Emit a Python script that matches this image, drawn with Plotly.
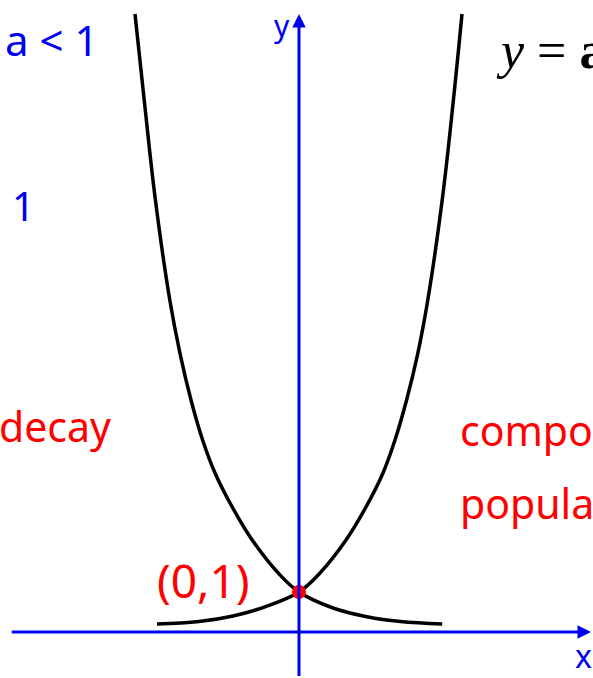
import plotly.graph_objects as go

# Curve points (data units: 1 unit = one step of the hidden grid)
growth_x = [-3.55, -2.5, -1.65, -0.85, 0.0, 0.525, 1.175, 1.675, 2.1, 2.4, 2.69, 2.965, 3.22, 3.58, 3.86, 4.075]
growth_y = [0.2, 0.26, 0.4, 0.63, 1.0, 1.475, 2.3, 3.125, 3.975, 4.8, 5.8, 6.94, 8.3, 10.8, 13.3, 15.45]

decay_x = [-4.1, -3.87, -3.59, -3.23, -2.97, -2.7, -2.41, -2.1, -1.67, -1.17, -0.52, 0.0, 0.85, 1.7, 2.53, 3.58]
decay_y = [15.45, 13.3, 10.8, 8.3, 6.94, 5.8, 4.8, 3.975, 3.125, 2.3, 1.475, 1.0, 0.6, 0.38, 0.26, 0.2]

point_x = [0]
point_y = [1]

x_range = [-7.475, 7.35]
y_range = [-1.15, 15.8]

BLUE = "#0000f0"
RED = "#ff0000"
FONT = "Noto Sans"
W, H = 593, 678

fig = go.Figure()

fig.add_trace(go.Scatter(x=decay_x, y=decay_y, mode="lines",
                         line=dict(color="black", width=3.5, shape="spline", smoothing=1.1),
                         hoverinfo="skip", showlegend=False))
fig.add_trace(go.Scatter(x=growth_x, y=growth_y, mode="lines",
                         line=dict(color="black", width=3.5, shape="spline", smoothing=1.1),
                         hoverinfo="skip", showlegend=False))
fig.add_trace(go.Scatter(x=point_x, y=point_y, mode="markers",
                         marker=dict(color=RED, size=14),
                         hoverinfo="skip", showlegend=False))

annotations = [
    # x axis arrow
    dict(x=7.3, y=0, ax=-7.22, ay=0, xref="x", yref="y", axref="x", ayref="y",
         text="", showarrow=True, arrowhead=2, arrowsize=0.9, arrowwidth=3, arrowcolor=BLUE),
    # y axis arrow
    dict(x=0, y=15.45, ax=0, ay=-1.14, xref="x", yref="y", axref="x", ayref="y",
         text="", showarrow=True, arrowhead=2, arrowsize=0.9, arrowwidth=3, arrowcolor=BLUE),
]

# (text, left px, centre px, colour, size, family)
texts = [
    ("a < 1", 3, 40, BLUE, 42, FONT),
    ("1", 10, 206, BLUE, 40, FONT),
    ("decay", -3, 426, RED, 41, FONT),
    ("compo", 458, 430, RED, 41, FONT),
    ("popula", 458, 503, RED, 41, FONT),
    ("(0,1)", 155, 580, RED, 46, FONT),
    ("y", 272, 26, BLUE, 30, FONT),
    ("x", 573, 655, BLUE, 32, FONT),
    ("<i>y</i> = <b>a</b>", 494, 50, "black", 52, "Liberation Serif"),
]
for t, px, py, c, s, f in texts:
    annotations.append(dict(x=px / W, y=1 - py / H, xref="paper", yref="paper", text=t,
                            showarrow=False, xanchor="left", yanchor="middle",
                            font=dict(color=c, size=s, family=f)))

fig.update_layout(
    width=W, height=H,
    margin=dict(l=0, r=0, t=0, b=0),
    paper_bgcolor="white", plot_bgcolor="white",
    xaxis=dict(range=x_range, visible=False, fixedrange=True),
    yaxis=dict(range=y_range, visible=False, fixedrange=True),
    annotations=annotations,
    showlegend=False,
)

fig.write_html("out.html", config={"displayModeBar": False},
               post_script="document.body.style.margin='0px';")
